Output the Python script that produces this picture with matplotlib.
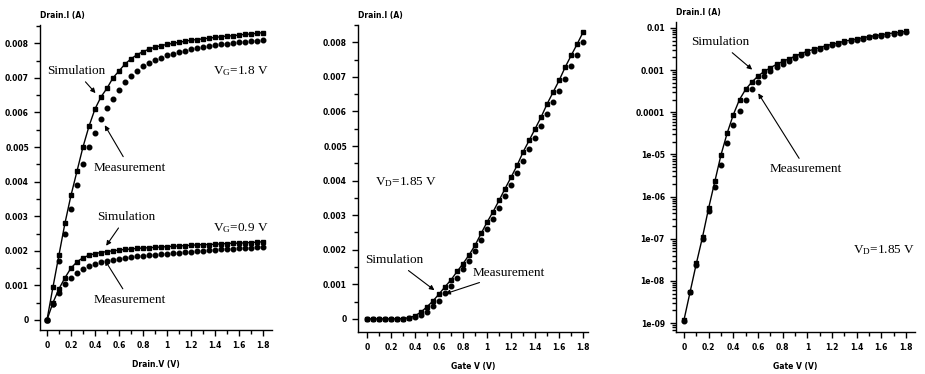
import numpy as np
import matplotlib
matplotlib.use("Agg")
import matplotlib.pyplot as plt
from matplotlib.ticker import MultipleLocator, FixedLocator, LogLocator, NullFormatter

plt.rcParams["mathtext.fontset"] = "custom"
plt.rcParams["mathtext.rm"] = "Liberation Serif"
plt.rcParams["mathtext.it"] = "Liberation Serif:italic"

# Output characteristics (Id vs Vd), Vd step 0.05 V
vd = np.arange(37) * 0.05
sim_vg18 = [0, 0.00095, 0.00188, 0.00280, 0.00360, 0.00430, 0.00500, 0.00560, 0.00610,
            0.00645, 0.00670, 0.00700, 0.00720, 0.00740, 0.00755, 0.00767, 0.00776,
            0.00783, 0.00789, 0.00793, 0.00797, 0.00800, 0.00803, 0.00806, 0.00809,
            0.00811, 0.00813, 0.00815, 0.00817, 0.00819, 0.00821, 0.00822, 0.00824,
            0.00826, 0.00827, 0.00829, 0.00831]
meas_vg18 = [0, 0.00045, 0.00170, 0.00250, 0.00322, 0.00390, 0.00450, 0.00500, 0.00542,
             0.00580, 0.00612, 0.00640, 0.00665, 0.00688, 0.00706, 0.00721, 0.00734,
             0.00744, 0.00752, 0.00759, 0.00765, 0.00770, 0.00775, 0.00779, 0.00783,
             0.00786, 0.00789, 0.00792, 0.00795, 0.00797, 0.00799, 0.00801, 0.00803,
             0.00805, 0.00806, 0.00808, 0.00810]
sim_vg09 = [0, 0.00050, 0.00090, 0.00122, 0.00150, 0.00168, 0.00180, 0.00187, 0.00192,
            0.00195, 0.00198, 0.00200, 0.00202, 0.00204, 0.00205, 0.00207, 0.00208,
            0.00209, 0.00210, 0.00211, 0.00212, 0.00213, 0.00214, 0.00215, 0.00216,
            0.00217, 0.00218, 0.00218, 0.00219, 0.00220, 0.00221, 0.00222, 0.00222,
            0.00223, 0.00224, 0.00225, 0.00226]
meas_vg09 = [0, 0.00045, 0.00078, 0.00103, 0.00122, 0.00137, 0.00148, 0.00156, 0.00162,
             0.00167, 0.00171, 0.00174, 0.00177, 0.00180, 0.00182, 0.00184, 0.00186,
             0.00188, 0.00189, 0.00191, 0.00192, 0.00194, 0.00195, 0.00197, 0.00198,
             0.00199, 0.00200, 0.00202, 0.00203, 0.00204, 0.00205, 0.00206, 0.00207,
             0.00208, 0.00209, 0.00210, 0.00211]

# Transfer characteristics (Id vs Vg) at Vd = 1.85 V
vg = np.arange(37) * 0.05
sim_vd = [1.2e-9, 5.6e-9, 2.6e-8, 1.1e-7, 5.4e-7, 2.3e-6, 9.8e-6, 3.2e-5, 8.8e-5,
          2.0e-4, 3.5e-4, 5.2e-4, 7.2e-4, 9.3e-4, 1.13e-3, 1.37e-3, 1.60e-3, 1.85e-3,
          2.13e-3, 2.47e-3, 2.80e-3, 3.10e-3, 3.43e-3, 3.77e-3, 4.10e-3, 4.44e-3,
          4.83e-3, 5.16e-3, 5.50e-3, 5.84e-3, 6.22e-3, 6.56e-3, 6.90e-3, 7.28e-3,
          7.62e-3, 7.95e-3, 8.30e-3]
meas_vd = [1.1e-9, 5.5e-9, 2.4e-8, 1.0e-7, 4.6e-7, 1.7e-6, 5.7e-6, 1.9e-5, 4.9e-5,
           1.1e-4, 2.0e-4, 3.6e-4, 5.3e-4, 7.4e-4, 9.6e-4, 1.19e-3, 1.43e-3, 1.68e-3,
           1.95e-3, 2.27e-3, 2.59e-3, 2.90e-3, 3.22e-3, 3.55e-3, 3.88e-3, 4.21e-3,
           4.58e-3, 4.91e-3, 5.24e-3, 5.57e-3, 5.93e-3, 6.26e-3, 6.59e-3, 6.95e-3,
           7.30e-3, 7.64e-3, 8.00e-3]

x_ticks = [0, 0.2, 0.4, 0.6, 0.8, 1, 1.2, 1.4, 1.6, 1.8]
x_labels = ["0", "0.2", "0.4", "0.6", "0.8", "1", "1.2", "1.4", "1.6", "1.8"]
lin_ticks = [0, 0.001, 0.002, 0.003, 0.004, 0.005, 0.006, 0.007, 0.008]
lin_labels = ["0", "0.001", "0.002", "0.003", "0.004", "0.005", "0.006", "0.007", "0.008"]
log_ticks = [1e-9, 1e-8, 1e-7, 1e-6, 1e-5, 1e-4, 1e-3, 1e-2]
log_labels = ["1e-09", "1e-08", "1e-07", "1e-06", "1e-05", "0.0001", "0.001", "0.01"]

serif = "Liberation Serif"
tfont = dict(family=serif, fontsize=9.5)

fig = plt.figure(figsize=(9.25, 3.74), dpi=100)
ax1 = fig.add_axes([40 / 925, 44 / 374, 232 / 925, 305 / 374])
ax2 = fig.add_axes([358 / 925, 42 / 374, 230 / 925, 307 / 374])
ax3 = fig.add_axes([676 / 925, 42 / 374, 239 / 925, 310 / 374])


def style(ax, xlabel):
    for s in ["top", "right"]:
        ax.spines[s].set_visible(False)
    for s in ["left", "bottom"]:
        ax.spines[s].set_linewidth(1.0)
    ax.set_xticks(x_ticks)
    ax.set_xticklabels(x_labels)
    ax.xaxis.set_minor_locator(MultipleLocator(0.1))
    ax.tick_params(which="major", length=4, width=1, labelsize=5.5, pad=4)
    ax.tick_params(which="minor", length=3, width=1)
    for lab in ax.get_xticklabels() + ax.get_yticklabels():
        lab.set_fontweight("bold")
    ax.set_xlabel(xlabel, fontsize=5.5, fontweight="bold", labelpad=7)
    ax.text(0.0, 1.015, "Drain.I (A)", transform=ax.transAxes, fontsize=5.5,
            fontweight="bold", ha="left", va="bottom")


def lin_y(ax):
    ax.set_yticks(lin_ticks)
    ax.set_yticklabels(lin_labels)
    ax.yaxis.set_minor_locator(MultipleLocator(0.0005))


sim_kw = dict(color="k", lw=1.0, marker="s", ms=3, mfc="k", mec="k")
meas_kw = dict(color="k", ls="none", marker="o", ms=3.3, mfc="k", mec="k")

# Panel 1: output curves
ax1.plot(vd, sim_vg18, **sim_kw)
ax1.plot(vd, meas_vg18, **meas_kw)
ax1.plot(vd, sim_vg09, **sim_kw)
ax1.plot(vd, meas_vg09, **meas_kw)
ax1.set_xlim(-0.058, 1.875)
ax1.set_ylim(-0.00029, 0.00853)
lin_y(ax1)
style(ax1, "Drain.V (V)")
arr = dict(arrowstyle="-|>", color="k", lw=0.8, mutation_scale=7)
ax1.annotate("Simulation", xy=(0.42, 0.0065), xytext=(0.24, 0.0072),
             ha="center", va="center", arrowprops=arr, **tfont)
ax1.annotate("Measurement", xy=(0.47, 0.0057), xytext=(0.69, 0.0044),
             ha="center", va="center", arrowprops=arr, **tfont)
ax1.annotate("Simulation", xy=(0.48, 0.00208), xytext=(0.66, 0.00298),
             ha="center", va="center", arrowprops=arr, **tfont)
ax1.annotate("Measurement", xy=(0.47, 0.0018), xytext=(0.69, 0.00058),
             ha="center", va="center", arrowprops=arr, **tfont)
ax1.text(1.38, 0.0072, r"V$_\mathrm{G}$=1.8 V", ha="left", va="center", **tfont)
ax1.text(1.38, 0.00265, r"V$_\mathrm{G}$=0.9 V", ha="left", va="center", **tfont)

# Panel 2: transfer curve, linear
ax2.plot(vg, sim_vd, **sim_kw)
ax2.plot(vg, meas_vd, **meas_kw)
ax2.set_xlim(-0.075, 1.84)
ax2.set_ylim(-0.00038, 0.0085)
lin_y(ax2)
style(ax2, "Gate V (V)")
ax2.annotate("Simulation", xy=(0.58, 0.00078), xytext=(0.23, 0.0017),
             ha="center", va="center", arrowprops=arr, **tfont)
ax2.annotate("Measurement", xy=(0.63, 0.0007), xytext=(1.18, 0.00133),
             ha="center", va="center", arrowprops=arr, **tfont)
ax2.text(0.067, 0.00396, r"V$_\mathrm{D}$=1.85 V", ha="left", va="center", **tfont)

# Panel 3: transfer curve, log
ax3.semilogy(vg, sim_vd, **sim_kw)
ax3.semilogy(vg, meas_vd, **meas_kw)
ax3.set_xlim(-0.065, 1.873)
ax3.set_ylim(10 ** -9.21, 10 ** -1.86)
ax3.yaxis.set_major_locator(FixedLocator(log_ticks))
ax3.set_yticklabels(log_labels)
ax3.yaxis.set_minor_locator(LogLocator(base=10, subs=np.arange(2, 10), numticks=20))
ax3.yaxis.set_minor_formatter(NullFormatter())
style(ax3, "Gate V (V)")
ax3.annotate("Simulation", xy=(0.57, 9.3e-4), xytext=(0.29, 4.6e-3),
             ha="center", va="center", arrowprops=arr, **tfont)
ax3.annotate("Measurement", xy=(0.59, 3.2e-4), xytext=(0.99, 4.4e-6),
             ha="center", va="center", arrowprops=arr, **tfont)
ax3.text(1.37, 5.5e-8, r"V$_\mathrm{D}$=1.85 V", ha="left", va="center", **tfont)

fig.savefig("out.png", dpi=100)
